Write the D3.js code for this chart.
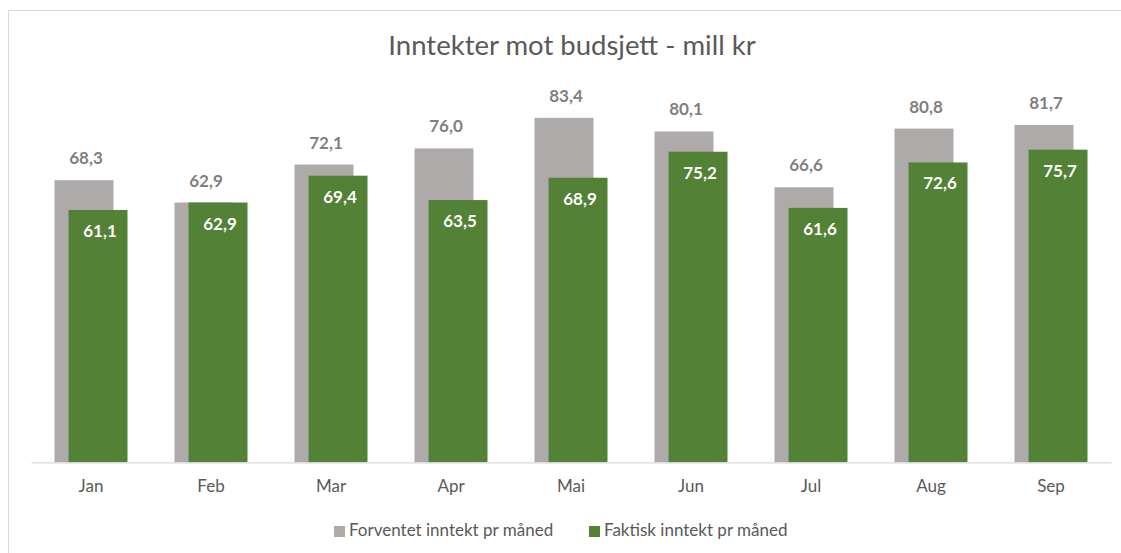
<!DOCTYPE html>
<html lang="no">
  <head>
    <meta charset="utf-8">
    <title>Inntekter mot budsjett</title>
    <script src="https://d3js.org/d3.v7.min.js"></script>
    <style>
      body { margin: 0; background: #fff; }
      svg text { font-family: Lato, "Liberation Sans", sans-serif; }
    </style>
  </head>
  <body>
    <script>
      // data
      let months = ["Jan", "Feb", "Mar", "Apr", "Mai", "Jun", "Jul", "Aug", "Sep"];
      let forventet = [68.3, 62.9, 72.1, 76.0, 83.4, 80.1, 66.6, 80.8, 81.7];
      let faktisk = [61.1, 62.9, 69.4, 63.5, 68.9, 75.2, 61.6, 72.6, 75.7];
      let seriesNames = ["Forventet inntekt pr måned", "Faktisk inntekt pr måned"];
      let yMax = 90;

      let w = 1121, h = 553;
      let grey = "#AEAAAA", green = "#538135";
      let fmt = v => v.toFixed(1).replace(".", ",");

      let svg = d3.select("body").append("svg")
        .attr("width", w)
        .attr("height", h);

      // chart border (goes off the right and bottom edge)
      svg.append("rect")
        .attr("x", 8.5).attr("y", 10.5)
        .attr("width", w + 20).attr("height", h + 20)
        .attr("fill", "none")
        .attr("stroke", "#d9d9d9");

      // title
      svg.append("text")
        .attr("x", 572).attr("y", 55)
        .attr("text-anchor", "middle")
        .attr("font-size", 27.5)
        .attr("fill", "#595959")
        .text("Inntekter mot budsjett - mill kr");

      // scales
      let xScale = d3.scaleBand().domain(months).range([31, 1111]);
      let yScale = d3.scaleLinear().domain([0, yMax]).range([462.3, 90.6]);
      let barW = 59;
      let shift = 7;

      let rows = months.map((m, i) => ({ m: m, f: forventet[i], a: faktisk[i] }));
      let cx = d => xScale(d.m) + xScale.bandwidth() / 2;

      // grey bars
      svg.selectAll(".bar-f")
        .data(rows)
        .enter()
        .append("rect")
        .attr("class", "bar-f")
        .attr("x", d => cx(d) - shift - barW / 2)
        .attr("y", d => yScale(d.f))
        .attr("width", barW)
        .attr("height", d => yScale(0) - yScale(d.f))
        .attr("fill", grey);

      // green bars
      svg.selectAll(".bar-a")
        .data(rows)
        .enter()
        .append("rect")
        .attr("class", "bar-a")
        .attr("x", d => cx(d) + shift - barW / 2)
        .attr("y", d => yScale(d.a))
        .attr("width", barW)
        .attr("height", d => yScale(0) - yScale(d.a))
        .attr("fill", green);

      // labels
      svg.selectAll(".lab-f")
        .data(rows)
        .enter()
        .append("text")
        .attr("class", "lab-f")
        .attr("x", d => cx(d) - shift + 2)
        .attr("y", d => yScale(d.f) - 16)
        .attr("text-anchor", "middle")
        .attr("font-size", 17)
        .attr("font-weight", "bold")
        .attr("fill", "#7f7f7f")
        .text(d => fmt(d.f));

      svg.selectAll(".lab-a")
        .data(rows)
        .enter()
        .append("text")
        .attr("class", "lab-a")
        .attr("x", d => cx(d) + shift + 2)
        .attr("y", d => yScale(d.a) + 27)
        .attr("text-anchor", "middle")
        .attr("font-size", 17)
        .attr("font-weight", "bold")
        .attr("fill", "#fff")
        .text(d => fmt(d.a));

      // x axis
      let xAxis = d3.axisBottom(xScale).tickSize(0).tickPadding(18);
      let gx = svg.append("g")
        .attr("transform", "translate(0," + yScale(0) + ")")
        .call(xAxis);
      gx.select(".domain").attr("stroke", "#d9d9d9").attr("stroke-width", 1.3);
      gx.selectAll("text")
        .attr("font-size", 17)
        .attr("fill", "#595959")
        .attr("font-family", "Lato, sans-serif");

      // legend
      let legendX = [334, 589];
      let colors = [grey, green];
      let lg = svg.selectAll(".legend")
        .data(seriesNames)
        .enter()
        .append("g")
        .attr("transform", (d, i) => "translate(" + legendX[i] + ",526)");
      lg.append("rect")
        .attr("width", 11).attr("height", 11)
        .attr("fill", (d, i) => colors[i]);
      lg.append("text")
        .attr("x", 15).attr("y", 10)
        .attr("font-size", 17)
        .attr("fill", "#595959")
        .text(d => d);
    </script>
  </body>
</html>
